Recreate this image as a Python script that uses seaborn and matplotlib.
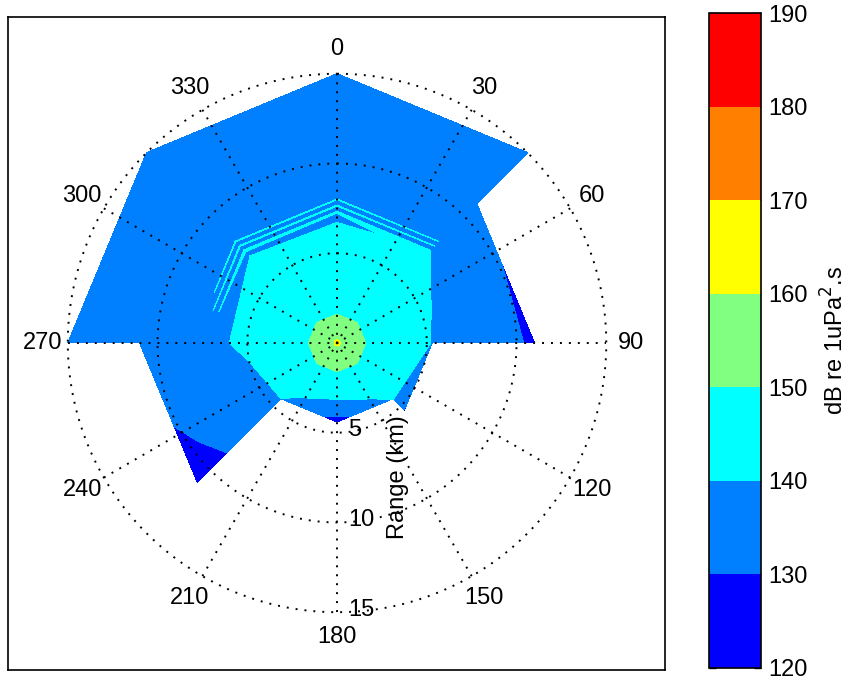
import numpy as np
import matplotlib
matplotlib.use("Agg")
import matplotlib.pyplot as plt
import seaborn as sns

sns.set_theme(style="white")
plt.rcParams["font.family"] = ["Liberation Sans", "DejaVu Sans"]
plt.rcParams["text.color"] = "black"
plt.rcParams["axes.labelcolor"] = "black"
plt.rcParams["ytick.color"] = "black"

# radials of the model run (deg clockwise from north) and range steps (km)
bearings = [0, 45, 90, 135, 180, 225, 270, 315]
ranges = [0, 0.5, 1, 1.6, 2, 3, 4, 4.4, 5.3, 6, 7, 7.3, 7.5, 7.65, 7.85, 8.0, 8.2, 9, 10, 11, 13, 15]

nan = np.nan
# received level along each radial, dB re 1uPa^2.s (nan = not modelled)
sel_000 = [162, 156, 153, 150, 148.5, 146.5, 144.8, 144.2, 142.8, 141.0,
           139.6, 140.1, 139.5, 140.1, 139.4, 140.08, 139.0, 137.5, 136, 134.5, 132.5, 131]
sel_045 = [162, 156, 153, 150, 148.5, 146.5, 145, 144.4, 143.2, 142,
           140.4, 140.03, 139.6, 140.02, 139.5, 140.02, 139.3, 137, 134.5, 131.2, 131, 130.6]
sel_090 = [162, 156, 153, 150, 148.5, 146, 143.5, 142.2, 139.8, 138.5,
           137, 136.6, 136.3, 136.1, 135.8, 135.5, 135.2, 133.5, 131, 128.5, nan, nan]
sel_135 = [162, 156, 153, 150, 148.5, 146, 143, 140.5, 129.5, nan,
           nan, nan, nan, nan, nan, nan, nan, nan, nan, nan, nan, nan]
sel_180 = [162, 156, 153, 150, 148.5, 141.5, 130.8, 127, nan, nan,
           nan, nan, nan, nan, nan, nan, nan, nan, nan, nan, nan, nan]
sel_225 = [162, 156, 153, 150, 148.5, 146, 142, 140.0, 137, 135.5,
           133, 132.5, 132.2, 131.9, 131.4, 131, 130.7, 129.5, 128, 126, nan, nan]
sel_270 = [162, 156, 153, 150, 148.5, 146, 144, 143, 141.2, 140,
           139, 139.95, 138.8, 139.95, 138.6, 139.9, 138.3, 137.5, 137, 136, 134, 132]
sel_315 = [162, 156, 153, 150, 148.5, 146.5, 145, 144.3, 143, 141.2,
           139.8, 140.1, 139.5, 140.1, 139.4, 140.1, 139.1, 138, 136.5, 135, 133, 131.5]

levels = [120, 130, 140, 150, 160, 170, 180, 190]
level_colors = ["#0000ff", "#0080ff", "#00ffff", "#80ff80", "#ffff00", "#ff8000", "#ff0000"]

angle_ticks = list(range(0, 360, 30))
range_rings = [5, 10, 15]

# build the polar grid in cartesian coords (north up, clockwise)
radials = [sel_000, sel_045, sel_090, sel_135, sel_180, sel_225, sel_270, sel_315, sel_000]
th = np.deg2rad(bearings + [360])
R, TH = np.meshgrid(ranges, th)
X = R * np.sin(TH)
Y = R * np.cos(TH)
Z = np.ma.masked_invalid(np.array(radials, dtype=float))

fig = plt.figure(figsize=(8.5, 6.88), dpi=100)
ax = fig.add_axes([8 / 850, 18 / 688, 657 / 850, 653 / 688])

cf = ax.contourf(X, Y, Z, levels=levels, colors=level_colors, corner_mask=False)

# dotted polar grid
rmax = 15
dots = dict(color="black", lw=1.4, linestyle=(0, (1, 3.6)))
circ = np.linspace(0, 2 * np.pi, 400)
for rr in range_rings:
    ax.plot(rr * np.sin(circ), rr * np.cos(circ), **dots)
for a in range(0, 180, 30):
    t = np.deg2rad(a)
    ax.plot([-rmax * np.sin(t), rmax * np.sin(t)], [-rmax * np.cos(t), rmax * np.cos(t)], **dots)

for a in angle_ticks:
    t = np.deg2rad(a)
    ax.text(16.4 * np.sin(t), 16.4 * np.cos(t), str(a), ha="center", va="center", fontsize=17)
for rr in range_rings:
    ax.text(0.6, -rr + 0.15, str(rr), ha="left", va="center", fontsize=17)
ax.text(3.4, -7.5, "Range (km)", rotation=90, ha="center", va="center", fontsize=17)

ax.set_xlim(-18.33, 18.27)
ax.set_ylim(-18.22, 18.16)
ax.set_xticks([])
ax.set_yticks([])
for s in ax.spines.values():
    s.set_color("black")
    s.set_linewidth(1.2)

cax = fig.add_axes([709 / 850, 20 / 688, 52 / 850, 655 / 688])
cb = fig.colorbar(cf, cax=cax, ticks=levels)
cb.outline.set_edgecolor("black")
cb.outline.set_linewidth(1.2)
cax.tick_params(labelsize=17, direction="in", length=5, width=1, left=True, right=True, pad=5, colors="black")
cb.set_label("dB re 1uPa$^2$.s", fontsize=17, labelpad=10)

fig.savefig("out.png", dpi=100, facecolor="white")
